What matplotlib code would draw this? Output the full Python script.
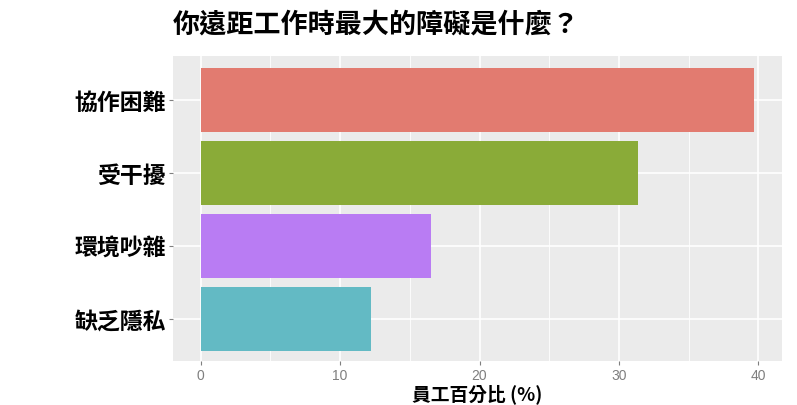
import matplotlib
matplotlib.use("Agg")
import matplotlib.pyplot as plt
from matplotlib.ticker import MultipleLocator

categories = ["協作困難", "受干擾", "環境吵雜", "缺乏隱私"]
values = [39.7, 31.4, 16.5, 12.2]
colors = ["#E27B70", "#8AAB38", "#B97CF3", "#63BAC4"]
xticks = [0, 10, 20, 30, 40]
title = "你遠距工作時最大的障礙是什麼？"
xlabel = "員工百分比 (%)"

plt.rcParams['font.family'] = ['Noto Sans CJK TC', 'DejaVu Sans']

fig = plt.figure(figsize=(7.97, 4.06), dpi=100)
top_px, bot_px = 57, 362
ax = fig.add_axes([173/797, 1-bot_px/406, (782-173)/797, (bot_px-top_px)/406])
ax.set_facecolor("#EBEBEB")

ypos = list(range(len(categories)))[::-1]
ax.barh(ypos, values, height=0.88, color=colors, zorder=3)

ax.set_xlim(-1.99, 41.7)
ax.set_ylim(-0.58, 3.6)
ax.set_xticks(xticks)
ax.set_xticklabels([str(t) for t in xticks], family=['Liberation Sans', 'DejaVu Sans'],
                   fontsize=10, color="#7F7F7F")
ax.xaxis.set_minor_locator(MultipleLocator(5))
ax.set_yticks(ypos)
ax.set_yticklabels(categories, fontsize=16.5, fontweight='bold', color='black')

ax.grid(which='major', color='white', linewidth=1.2, zorder=1)
ax.grid(which='minor', axis='x', color='white', linewidth=0.6, zorder=1)
for s in ax.spines.values():
    s.set_visible(False)
ax.tick_params(which='major', length=3, color="#7F7F7F", width=0.8, pad=2)
ax.tick_params(which='minor', length=0)

ax.set_xlabel(xlabel, fontsize=13.5, fontweight='bold', labelpad=1)
fig.text(173/797, 1-25/406, title, fontsize=19.5, fontweight='bold', va='center', ha='left')

fig.savefig("out.png", dpi=100)
